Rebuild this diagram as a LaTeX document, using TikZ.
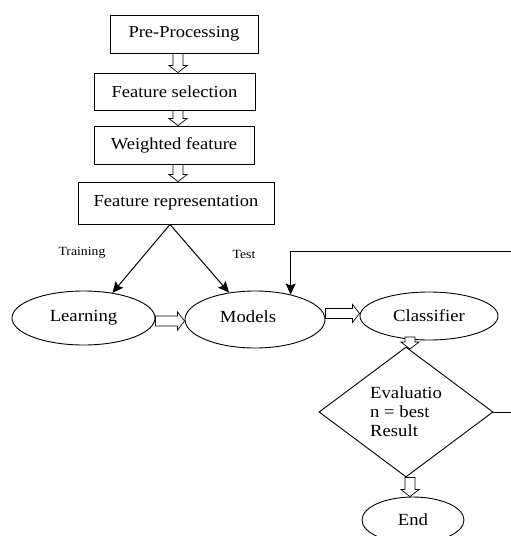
\documentclass[tikz,border=0pt]{standalone}
\usepackage{fontspec}
\setmainfont{Liberation Serif}[FakeStretch=1.1]
\usetikzlibrary{shapes.geometric,calc,arrows.meta}
\newcommand\vhollow[2]{\draw[hollow] let \p1=(#1), \p2=(#2) in
  (\x1-5pt,\y1) -- (\x1-5pt,\y2+7pt) -- (\x1-9pt,\y2+7pt) -- (\x1,\y2) -- (\x1+9pt,\y2+7pt) -- (\x1+5pt,\y2+7pt) -- (\x1+5pt,\y1) -- cycle;}
\newcommand\hhollow[2]{\draw[hollow] let \p1=(#1), \p2=(#2) in
  (\x1,\y1+5pt) -- (\x2-7pt,\y1+5pt) -- (\x2-7pt,\y1+9pt) -- (\x2,\y1) -- (\x2-7pt,\y1-9pt) -- (\x2-7pt,\y1-5pt) -- (\x1,\y1-5pt) -- cycle;}
\begin{document}
\begin{tikzpicture}[x=1pt,y=-1pt,
 box/.style={draw, line width=0.9pt, inner sep=0pt, font=\fontsize{16.8}{18}\selectfont},
 oval/.style={draw, ellipse, inner sep=0pt, line width=0.9pt, font=\fontsize{17}{19}\selectfont},
 hollow/.style={draw, line width=0.7pt, fill=white, line join=miter},
 conn/.style={line width=1pt, -{Stealth[length=11pt,width=10pt,inset=2pt]}},
 lbl/.style={font=\fontsize{12.5}{14}\selectfont}
]
\useasboundingbox (0,0) rectangle (511,536);
\node[box, minimum width=148pt, minimum height=38pt] (pre) at (184,34) {Pre-Processing};
\node[box, minimum width=161pt, minimum height=37pt] (fsel) at (174.5,91.5) {Feature selection};
\node[box, minimum width=160pt, minimum height=38pt] (wf) at (174,145) {Weighted feature};
\node[box, minimum width=196pt, minimum height=42pt] (rep) at (176,203) {Feature representation};

\node[oval, minimum width=143pt, minimum height=54pt] (learn) at (83.5,318) {Learning};
\node[oval, minimum width=140pt, minimum height=57pt] (models) at (255,319.5) {\raisebox{5pt}{Models}\hspace*{14pt}};
\node[oval, minimum width=138pt, minimum height=48pt] (class) at (429,316) {Classifier};
\node[draw, diamond, minimum width=174pt, minimum height=130pt, inner sep=0pt, line width=0.9pt, align=left, font=\fontsize{17}{19}\selectfont] (diam) at (406,412) {Evaluatio\\n = best\\Result};
\node[oval, minimum width=102pt, minimum height=46pt] (end) at (413,520) {End};

\node[lbl] (tr) at (82,253) {Training};
\node[lbl] (te) at (244,254) {Test};

\coordinate (apex) at ([xshift=-6pt]rep.south);
\draw[conn] (apex) -- (learn.41);
\draw[conn] (apex) -- (models.134);

\coordinate (fbin) at (511,251);
\draw[conn] (fbin) -| (models.35);
\coordinate (fbout) at (511,412);
\draw[line width=0.9pt] (diam.east) -- (fbout);

\coordinate (h1a) at ([xshift=2pt]pre.south -| rep.south);
\coordinate (h1b) at ([xshift=2pt]fsel.north -| rep.south);
\coordinate (h2a) at ([xshift=2pt]fsel.south -| rep.south);
\coordinate (h2b) at ([xshift=2pt]wf.north -| rep.south);
\coordinate (h3a) at ([xshift=2pt]wf.south -| rep.south);
\coordinate (h3b) at ([xshift=2pt]rep.north);
\vhollow{h1a}{h1b}
\vhollow{h2a}{h2b}
\vhollow{h3a}{h3b}

\coordinate (h4a) at ([yshift=-3pt]learn.east);
\coordinate (h4b) at ([yshift=-3pt]learn.east -| models.west);
\hhollow{h4a}{h4b}
\coordinate (h5a) at ([yshift=6pt]models.east);
\coordinate (h5b) at ([yshift=6pt]models.east -| class.west);
\hhollow{h5a}{h5b}
\coordinate (h6a) at (410,337);
\coordinate (h6b) at (410,349);
\vhollow{h6a}{h6b}
\coordinate (h7a) at ([xshift=4pt]diam.south);
\coordinate (h7b) at ([xshift=4pt]diam.south |- end.north);
\vhollow{h7a}{h7b}
\end{tikzpicture}
\end{document}
